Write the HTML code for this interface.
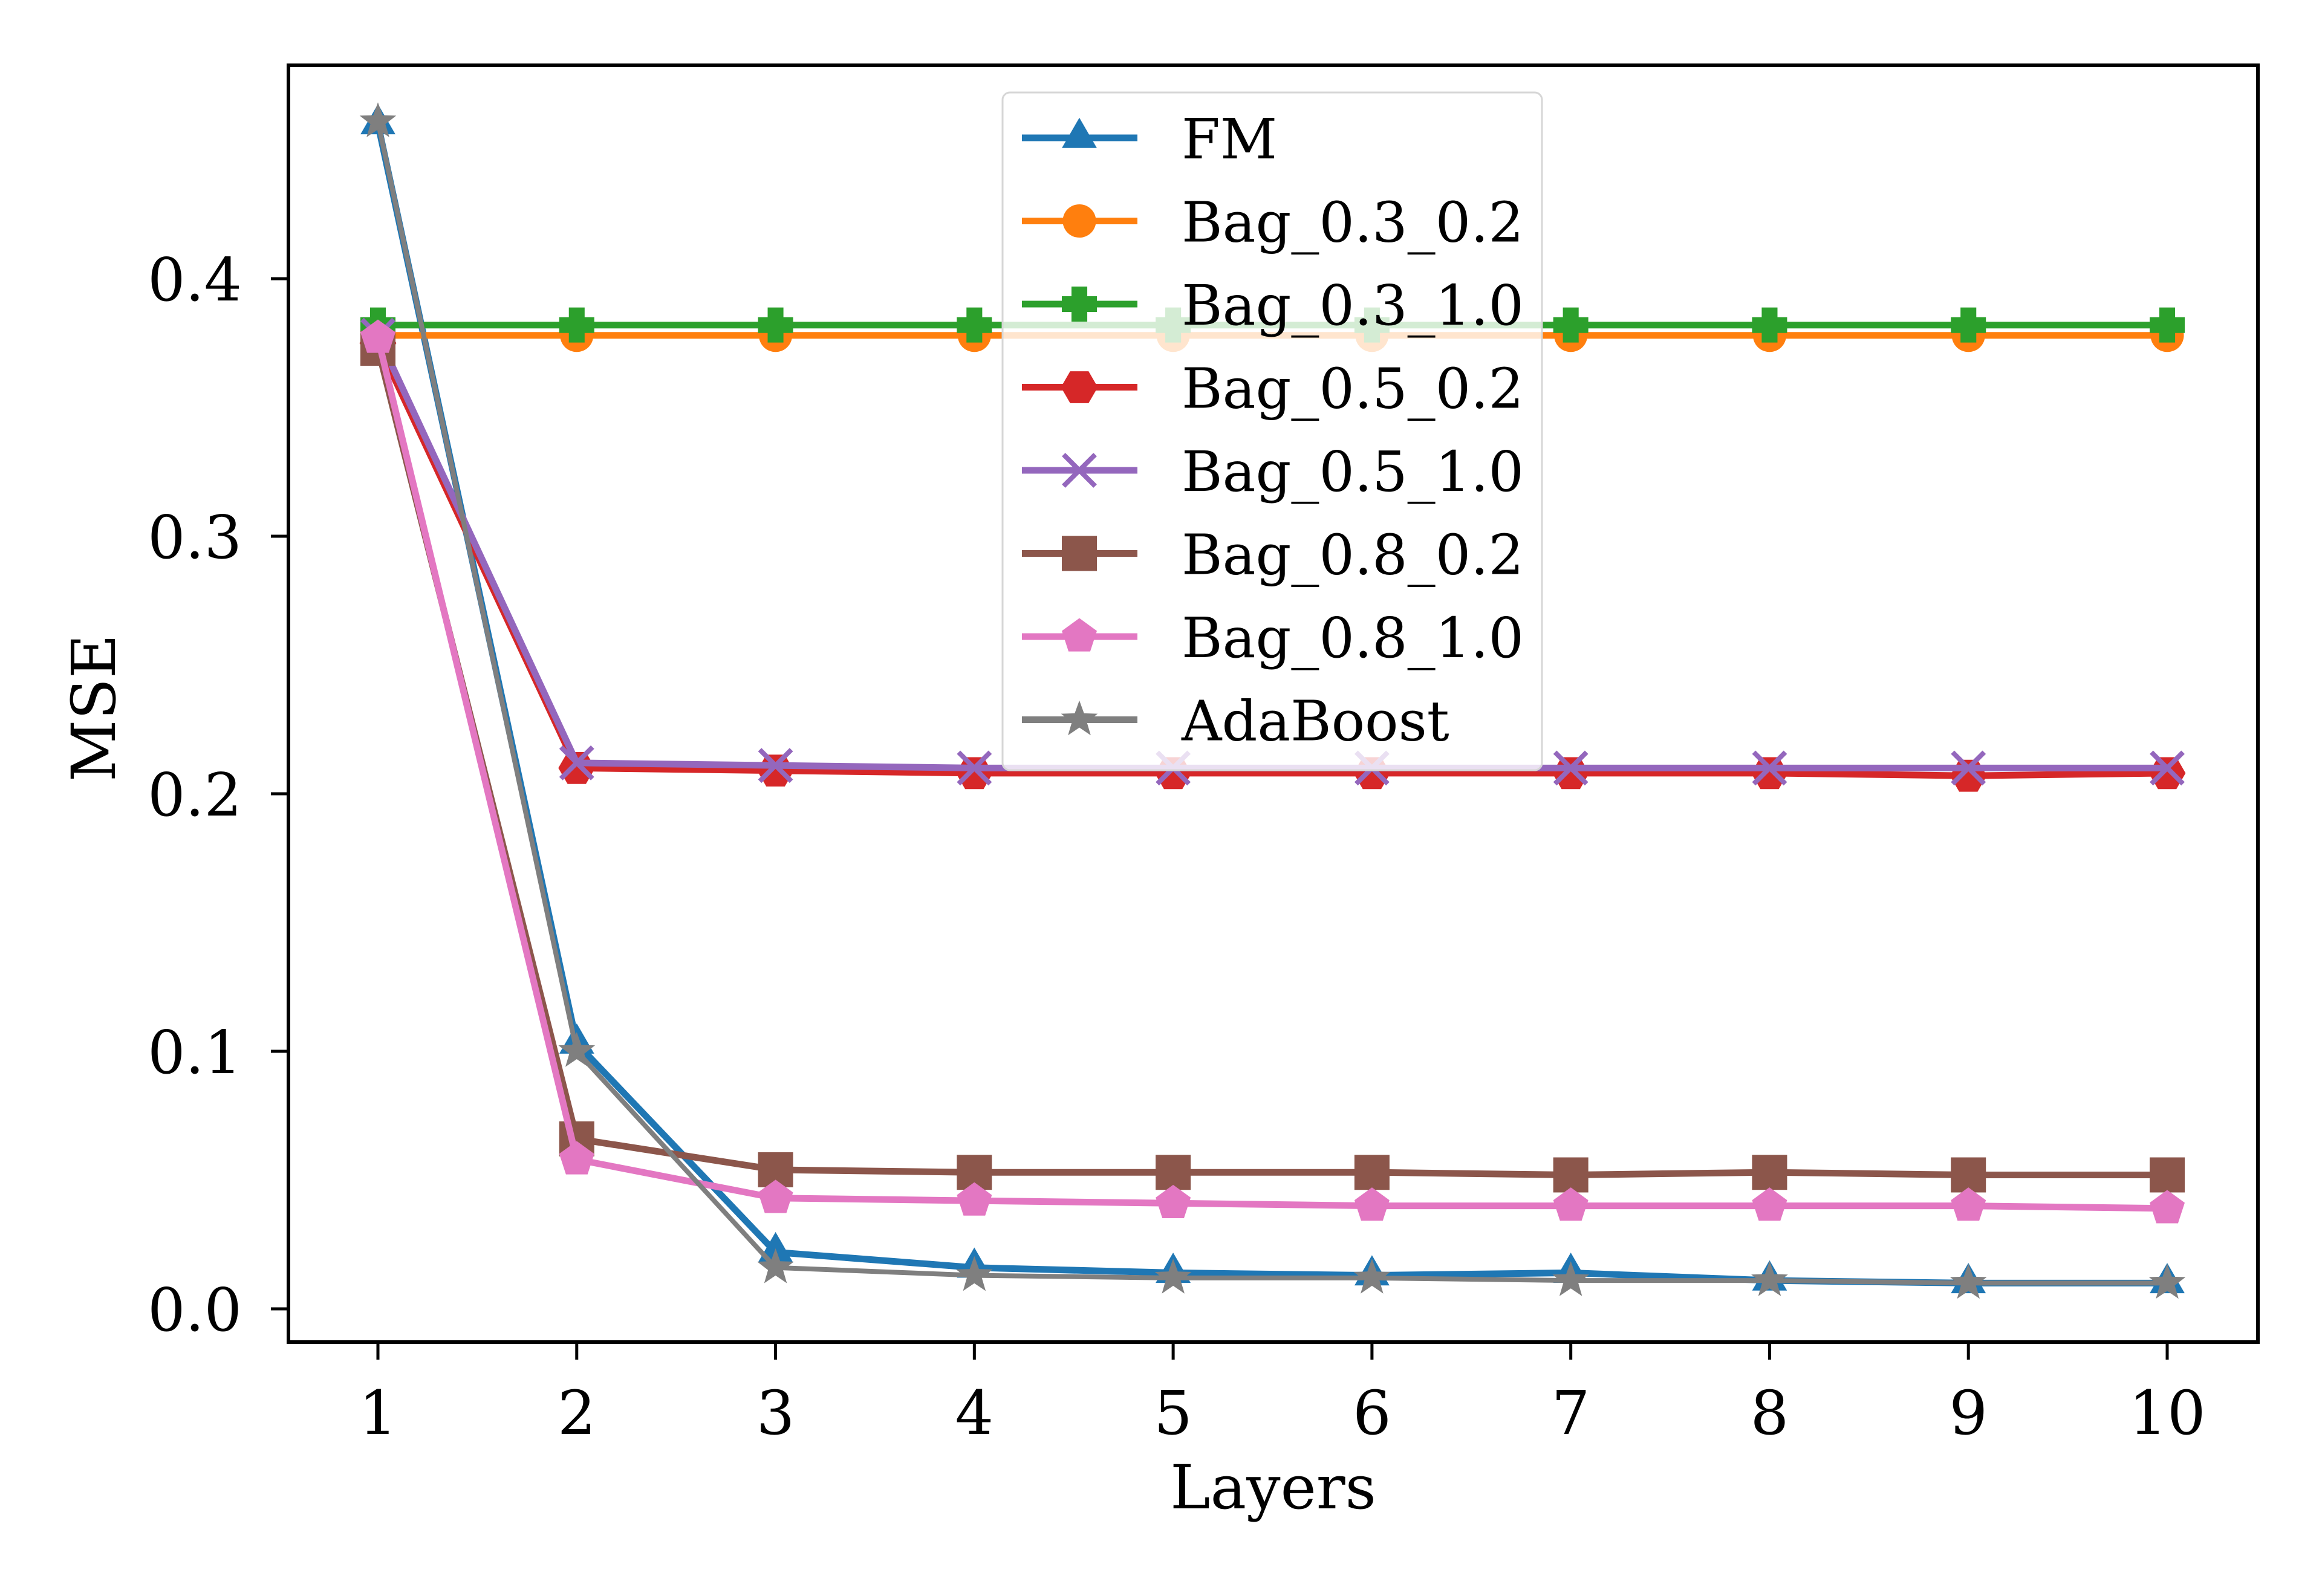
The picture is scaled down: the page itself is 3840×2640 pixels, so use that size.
<!DOCTYPE html>
<html><head><meta charset="utf-8"><style>
html,body{margin:0;padding:0;background:#fff;}
svg{display:block;font-family:"DejaVu Serif","Liberation Serif",serif;}
</style></head><body>
<svg id="chart" width="3840" height="2640" viewBox="0 0 3840 2640" xmlns="http://www.w3.org/2000/svg">
<rect width="3840" height="2640" fill="#fff"/>
</svg>
<script>
const layers = [1,2,3,4,5,6,7,8,9,10];
const yTicks = [0.0,0.1,0.2,0.3,0.4];
const yTickLabels = ["0.0","0.1","0.2","0.3","0.4"];
const seriesNames = ["FM","Bag_0.3_0.2","Bag_0.3_1.0","Bag_0.5_0.2","Bag_0.5_1.0","Bag_0.8_0.2","Bag_0.8_1.0","AdaBoost"];
const fm        = [0.460,0.103,0.022,0.016,0.014,0.013,0.014,0.011,0.010,0.010];
const bag03_02  = [0.378,0.378,0.378,0.378,0.378,0.378,0.378,0.378,0.378,0.378];
const bag03_10  = [0.382,0.382,0.382,0.382,0.382,0.382,0.382,0.382,0.382,0.382];
const bag05_02  = [0.375,0.210,0.209,0.208,0.208,0.208,0.208,0.208,0.207,0.208];
const bag05_10  = [0.378,0.212,0.211,0.210,0.210,0.210,0.210,0.210,0.210,0.210];
const bag08_02  = [0.373,0.066,0.054,0.053,0.053,0.053,0.052,0.053,0.052,0.052];
const bag08_10  = [0.377,0.058,0.043,0.042,0.041,0.040,0.040,0.040,0.040,0.039];
const adaboost  = [0.461,0.100,0.016,0.013,0.012,0.012,0.011,0.011,0.010,0.010];

const NS="http://www.w3.org/2000/svg";
const svg=document.getElementById('chart');
const L=477,R=3734,T=108,B=2220;
const X0=625,X1=3584,Y0=2165,Y4=461;
function xs(v){return X0+(v-1)*(X1-X0)/9;}
function ys(v){return Y0+(v-0)*(Y4-Y0)/0.4;}
function mk(tag,attrs,parent){const e=document.createElementNS(NS,tag);for(const k in attrs)e.setAttribute(k,attrs[k]);(parent||svg).appendChild(e);return e;}

const colors=["#1f77b4","#ff7f0e","#2ca02c","#d62728","#9467bd","#8c564b","#e377c2","#7f7f7f"];
const markers=["tri","circ","plus","hex","x","sq","pent","star"];
const data=[fm,bag03_02,bag03_10,bag05_02,bag05_10,bag08_02,bag08_10,adaboost];

function poly(cx,cy,n,r,rot){let p=[];for(let i=0;i<n;i++){const a=rot+i*2*Math.PI/n;p.push((cx+r*Math.cos(a)).toFixed(1)+","+(cy+r*Math.sin(a)).toFixed(1));}return p.join(" ");}
function marker(type,cx,cy,c,g){
  const s=29;
  if(type==="tri") return mk('polygon',{points:poly(cx,cy,3,s*1.15,-Math.PI/2),fill:c},g);
  if(type==="circ") return mk('circle',{cx:cx,cy:cy,r:s*0.95,fill:c},g);
  if(type==="plus"){const w=s*0.45;return mk('path',{d:`M${cx-w},${cy-s}h${2*w}v${s-w}h${s-w}v${2*w}h${-(s-w)}v${s-w}h${-2*w}v${-(s-w)}h${-(s-w)}v${-2*w}h${s-w}z`,fill:c},g);}
  if(type==="hex") return mk('polygon',{points:poly(cx,cy,6,s*1.05,0),fill:c},g);
  if(type==="x") return mk('path',{d:`M${cx-s*0.9},${cy-s*0.9}L${cx+s*0.9},${cy+s*0.9}M${cx-s*0.9},${cy+s*0.9}L${cx+s*0.9},${cy-s*0.9}`,stroke:c,'stroke-width':8,fill:'none'},g);
  if(type==="sq") return mk('rect',{x:cx-s,y:cy-s,width:2*s,height:2*s,fill:c},g);
  if(type==="pent") return mk('polygon',{points:poly(cx,cy,5,s*1.05,-Math.PI/2),fill:c},g);
  if(type==="star"){let p=[];for(let i=0;i<10;i++){const r=i%2?s*0.45:s*1.1;const a=-Math.PI/2+i*Math.PI/5;p.push((cx+r*Math.cos(a)).toFixed(1)+","+(cy+r*Math.sin(a)).toFixed(1));}return mk('polygon',{points:p.join(" "),fill:c},g);}
}

data.forEach((arr,i)=>{
  const g=mk('g',{});
  
  
  const pts=arr.map((v,j)=>xs(layers[j]).toFixed(1)+","+ys(v).toFixed(1)).join(" ");
  const ln=mk('polyline',{points:pts,fill:'none',stroke:colors[i],'stroke-width':i===7?8:11,'stroke-linejoin':'round'},g);
  
  
  arr.forEach((v,j)=>{
    const m=marker(markers[i],xs(layers[j]),ys(v),colors[i],g);
    
    
  });
});

const frame=mk('rect',{x:L,y:T,width:R-L,height:B-T,fill:'none',stroke:'#000','stroke-width':6});



layers.forEach(v=>{
  const x=xs(v);
  const t=mk('line',{x1:x,y1:B,x2:x,y2:B+29,stroke:'#000','stroke-width':5});
  
  
  const tx=mk('text',{x:x,y:B+152,'text-anchor':'middle','font-size':100,fill:'#000'});
  tx.textContent=String(v);
  
  
});
yTicks.forEach((v,i)=>{
  const y=ys(v);
  const t=mk('line',{x1:L-29,y1:y,x2:L,y2:y,stroke:'#000','stroke-width':5});
  
  
  const tx=mk('text',{x:400,y:y+36,'text-anchor':'end','font-size':98,fill:'#000'});
  tx.textContent=yTickLabels[i];
  
  
});
const xl=mk('text',{x:(L+R)/2,y:2495,'text-anchor':'middle','font-size':100,fill:'#000'});
xl.textContent='Layers';


const yl=mk('text',{x:0,y:0,'text-anchor':'middle','font-size':100,fill:'#000',transform:'translate(190,1171) rotate(-90)'});
yl.textContent='MSE';



const lg=mk('g',{});


mk('rect',{x:1658,y:153,width:892,height:1121,rx:12,fill:'rgba(255,255,255,0.8)',stroke:'#d6d6d6','stroke-width':3},lg);
seriesNames.forEach((n,i)=>{
  const y=228+i*137.5;
  const e=mk('g',{},lg);
  
  
  mk('line',{x1:1690,y1:y,x2:1881,y2:y,stroke:colors[i],'stroke-width':11},e);
  marker(markers[i],1785,y,colors[i],e);
  const t=mk('text',{x:1954,y:y+34,'font-size':92,fill:'#000'},e);
  t.textContent=n;
});
</script>
</body></html>
